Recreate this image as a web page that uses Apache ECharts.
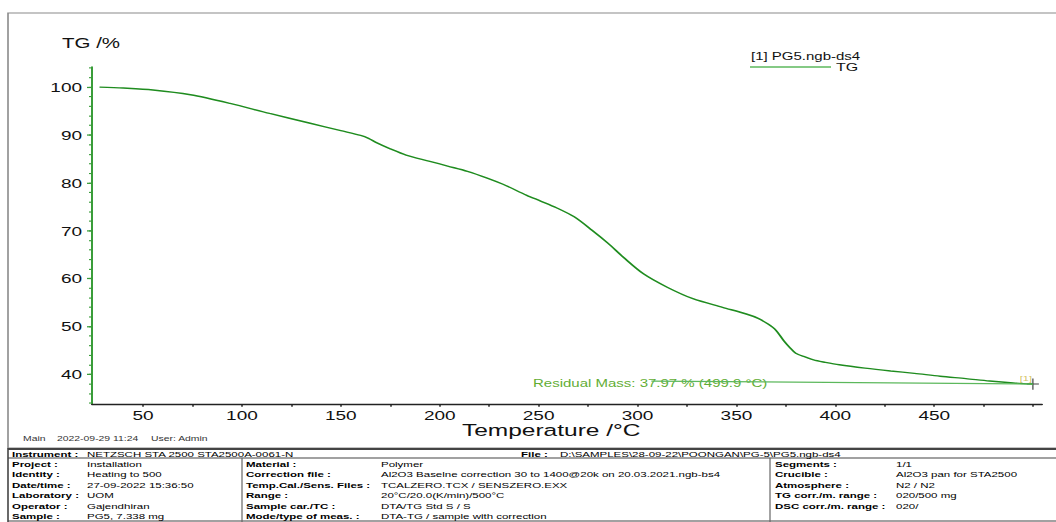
<!DOCTYPE html>
<html><head><meta charset="utf-8">
<script src="https://cdn.jsdelivr.net/npm/echarts@6/dist/echarts.min.js"></script>
<style>
html,body{margin:0;padding:0;overflow:hidden;background:#fff;width:1056px;height:522px}
#wrap{width:1056px;height:522px;overflow:hidden;position:relative}
#chart{width:1056px;position:absolute;left:0;top:0;transform-origin:0 0}
</style></head><body><div id="wrap"><div id="chart"></div></div>
<script>
// ---- data ----
const temperature = [28, 40, 55, 74, 94, 114, 134, 150, 160, 164, 168, 175, 183, 195, 204, 214, 224, 232, 244, 251, 259, 268, 277, 285, 293, 303, 315, 328, 343, 355, 361, 366, 370, 374, 377, 380, 385, 389, 395, 402, 415, 428, 440, 453, 466, 478, 490, 499.9];
const tgPercent   = [100.0, 99.8, 99.4, 98.4, 96.6, 94.5, 92.5, 90.9, 89.9, 89.3, 88.4, 87.1, 85.8, 84.5, 83.5, 82.4, 81.0, 79.7, 77.4, 76.2, 74.8, 72.9, 70.1, 67.4, 64.4, 61.0, 58.2, 55.8, 54.0, 52.6, 51.7, 50.5, 49.2, 47.0, 45.6, 44.4, 43.6, 43.0, 42.5, 42.0, 41.3, 40.7, 40.2, 39.6, 39.1, 38.6, 38.2, 37.97];
const yTickLabels = [40, 50, 60, 70, 80, 90, 100];
const yMinorTicks = [34, 36, 38, 40, 42, 44, 46, 48, 50, 52, 54, 56, 58, 60, 62, 64, 66, 68, 70, 72, 74, 76, 78, 80, 82, 84, 86, 88, 90, 92, 94, 96, 98, 100, 102, 104];
const xTickLabels = [50, 100, 150, 200, 250, 300, 350, 400, 450];
const xTicks = [50, 75, 100, 125, 150, 175, 200, 225, 250, 275, 300, 325, 350, 375, 400, 425, 450, 475, 500];
const residualPoint = [499.9, 37.97];
const residualLineStart = [307, 38.6];
const residualText = 'Residual Mass: 37.97 % (499.9 °C)';
const infoInstrument = ['Instrument :', 'NETZSCH STA 2500 STA2500A-0061-N', 'File :', 'D:\\SAMPLES\\28-09-22\\POONGAN\\PG-5\\PG5.ngb-ds4'];
const infoCol1 = [['Project :','Installation'],['Identity :','Heating to 500'],['Date/time :','27-09-2022 15:36:50'],['Laboratory :','UOM'],['Operator :','Gajendhiran'],['Sample :','PG5, 7.338 mg']];
const infoCol2 = [['Material :','Polymer'],['Correction file :','Al2O3 Baselne correction 30 to 1400@20k on 20.03.2021.ngb-bs4'],['Temp.Cal./Sens. Files :','TCALZERO.TCX / SENSZERO.EXX'],['Range :','20°C/20.0(K/min)/500°C'],['Sample car./TC :','DTA/TG Std S / S'],['Mode/type of meas. :','DTA-TG / sample with correction']];
const infoCol3 = [['Segments :','1/1'],['Crucible :','Al2O3 pan for STA2500'],['Atmosphere :','N2 / N2'],['TG corr./m. range :','020/500 mg'],['DSC corr./m. range :','020/']];

// ---- layout (vertical squash to match reference text proportions) ----
const H = 746;
const S = 522 / H;
const Y = y => y / S;
const el = document.getElementById('chart');
el.style.height = H + 'px';
el.style.transform = 'scaleY(' + S + ')';

const FF = '"Liberation Sans", Arial, sans-serif';
const TS = 11.5;
const txt = (x, y, t, size, opts) => Object.assign({
  type: 'text', silent: true,
  style: Object.assign({ x: x, y: Y(y), text: t, fontSize: size, fontFamily: FF, fill: '#000', verticalAlign: 'middle' }, opts || {})
});
const line = (x1, y1, x2, y2, w, c) => ({ type: 'line', silent: true, shape: { x1: x1, y1: Y(y1), x2: x2, y2: Y(y2) }, style: { stroke: c || '#444', lineWidth: w || 1.5 } });

const graphics = [
  { type: 'rect', silent: true, shape: { x: 8, y: Y(13), width: 1060, height: Y(448) - Y(13) }, style: { fill: 'none', stroke: '#8a8a8a', lineWidth: 1.6 } },
  txt(62, 43.5, 'TG /%', 20.5, { fill: '#111' }),
  txt(462, 430, 'Temperature /°C', 24.5, { fill: '#111' }),
  txt(751, 56.5, '[1] PG5.ngb-ds4', 15, { fill: '#111' }),
  txt(533, 383.5, residualText, 15, { fill: '#62ad34' }),
  txt(23, 439, 'Main', 10.4, { fill: '#333' }),
  txt(57, 439, '2022-09-29 11:24', 10.4, { fill: '#333' }),
  txt(151, 439, 'User: Admin', 10.4, { fill: '#333' }),
  line(8, 449, 1060, 449, 2.6, '#444'),
  line(8, 458, 1060, 458, 1.6, '#444'),
  line(8, 521, 1060, 521, 1.6, '#444'),
  line(8, 448, 8, 522, 1.6, '#444'),
  line(242, 458, 242, 522, 1.2, '#666'),
  line(770, 458, 770, 522, 1.2, '#666'),
  txt(12, 453.8, infoInstrument[0], TS, { fontWeight: 'bold' }),
  txt(87, 453.8, infoInstrument[1], TS),
  txt(521, 453.8, infoInstrument[2], TS, { fontWeight: 'bold' }),
  txt(560, 453.8, infoInstrument[3], TS)
];
const rowY = i => 463.8 + i * 10.5;
infoCol1.forEach((r, i) => { graphics.push(txt(12, rowY(i), r[0], TS, { fontWeight: 'bold' })); graphics.push(txt(87, rowY(i), r[1], TS)); });
infoCol2.forEach((r, i) => { graphics.push(txt(246, rowY(i), r[0], TS, { fontWeight: 'bold' })); graphics.push(txt(381, rowY(i), r[1], TS)); });
infoCol3.forEach((r, i) => { graphics.push(txt(775, rowY(i), r[0], TS, { fontWeight: 'bold' })); graphics.push(txt(896, rowY(i), r[1], TS)); });

const chart = echarts.init(el, null, { renderer: 'svg' });
const axisGreen = '#3a9d3a';
chart.setOption({
  animation: false,
  backgroundColor: '#fff',
  grid: { left: 92, right: 14, top: Y(67), bottom: Y(118), containLabel: false },
  legend: {
    show: true, left: 750, top: Y(67) - 8, padding: 0,
    itemWidth: 81, itemHeight: 2.4,
    data: [{ name: 'TG', icon: 'rect', itemStyle: { color: '#5cb85c' } }],
    textStyle: { fontSize: 16, color: '#111', fontFamily: FF }
  },
  xAxis: {
    type: 'value', min: 24.2, max: 504.5,
    axisLine: { show: true, onZero: false, lineStyle: { color: '#222', width: 2 } },
    axisTick: { show: true, customValues: xTicks, length: 4, lineStyle: { color: '#222', width: 1.5 } },
    axisLabel: { customValues: xTickLabels, fontSize: 19, color: '#111', fontFamily: FF, margin: 6 },
    splitLine: { show: false }
  },
  yAxis: [
    {
      type: 'value', min: 33.8, max: 104.2, position: 'left',
      axisLine: { show: true, lineStyle: { color: axisGreen, width: 2 } },
      axisTick: { show: true, customValues: yTickLabels, length: 5, lineStyle: { color: axisGreen, width: 1.8 } },
      axisLabel: { customValues: yTickLabels, fontSize: 19, color: '#111', fontFamily: FF, margin: 10 },
      splitLine: { show: false }
    },
    {
      type: 'value', min: 33.8, max: 104.2, position: 'left',
      axisLine: { show: false },
      axisTick: { show: true, customValues: yMinorTicks, length: 3, lineStyle: { color: axisGreen, width: 1.6 } },
      axisLabel: { show: false },
      splitLine: { show: false }
    }
  ],
  series: [
    {
      name: 'TG', type: 'line', yAxisIndex: 0, smooth: 0.3, symbol: 'none',
      data: temperature.map((t, i) => [t, tgPercent[i]]),
      lineStyle: { color: '#1f8c1f', width: 2 },
      itemStyle: { color: '#1f8c1f' },
      markLine: {
        silent: true, symbol: 'none', animation: false,
        label: { show: false },
        lineStyle: { color: '#5cb85c', width: 1.8, type: 'solid' },
        data: [[{ coord: residualLineStart }, { coord: residualPoint }]]
      }
    },
    {
      name: 'end', type: 'scatter', yAxisIndex: 0, silent: true,
      data: [residualPoint],
      symbol: 'path://M0,45H100V55H0Z M45,0H55V100H45Z',
      symbolSize: [12, 16],
      itemStyle: { color: '#111' },
      label: { show: true, formatter: '[1]', position: 'inside', offset: [-7, -8], fontSize: 11, color: '#c6b23a', fontFamily: FF }
    }
  ],
  graphic: graphics
});
</script></body></html>
